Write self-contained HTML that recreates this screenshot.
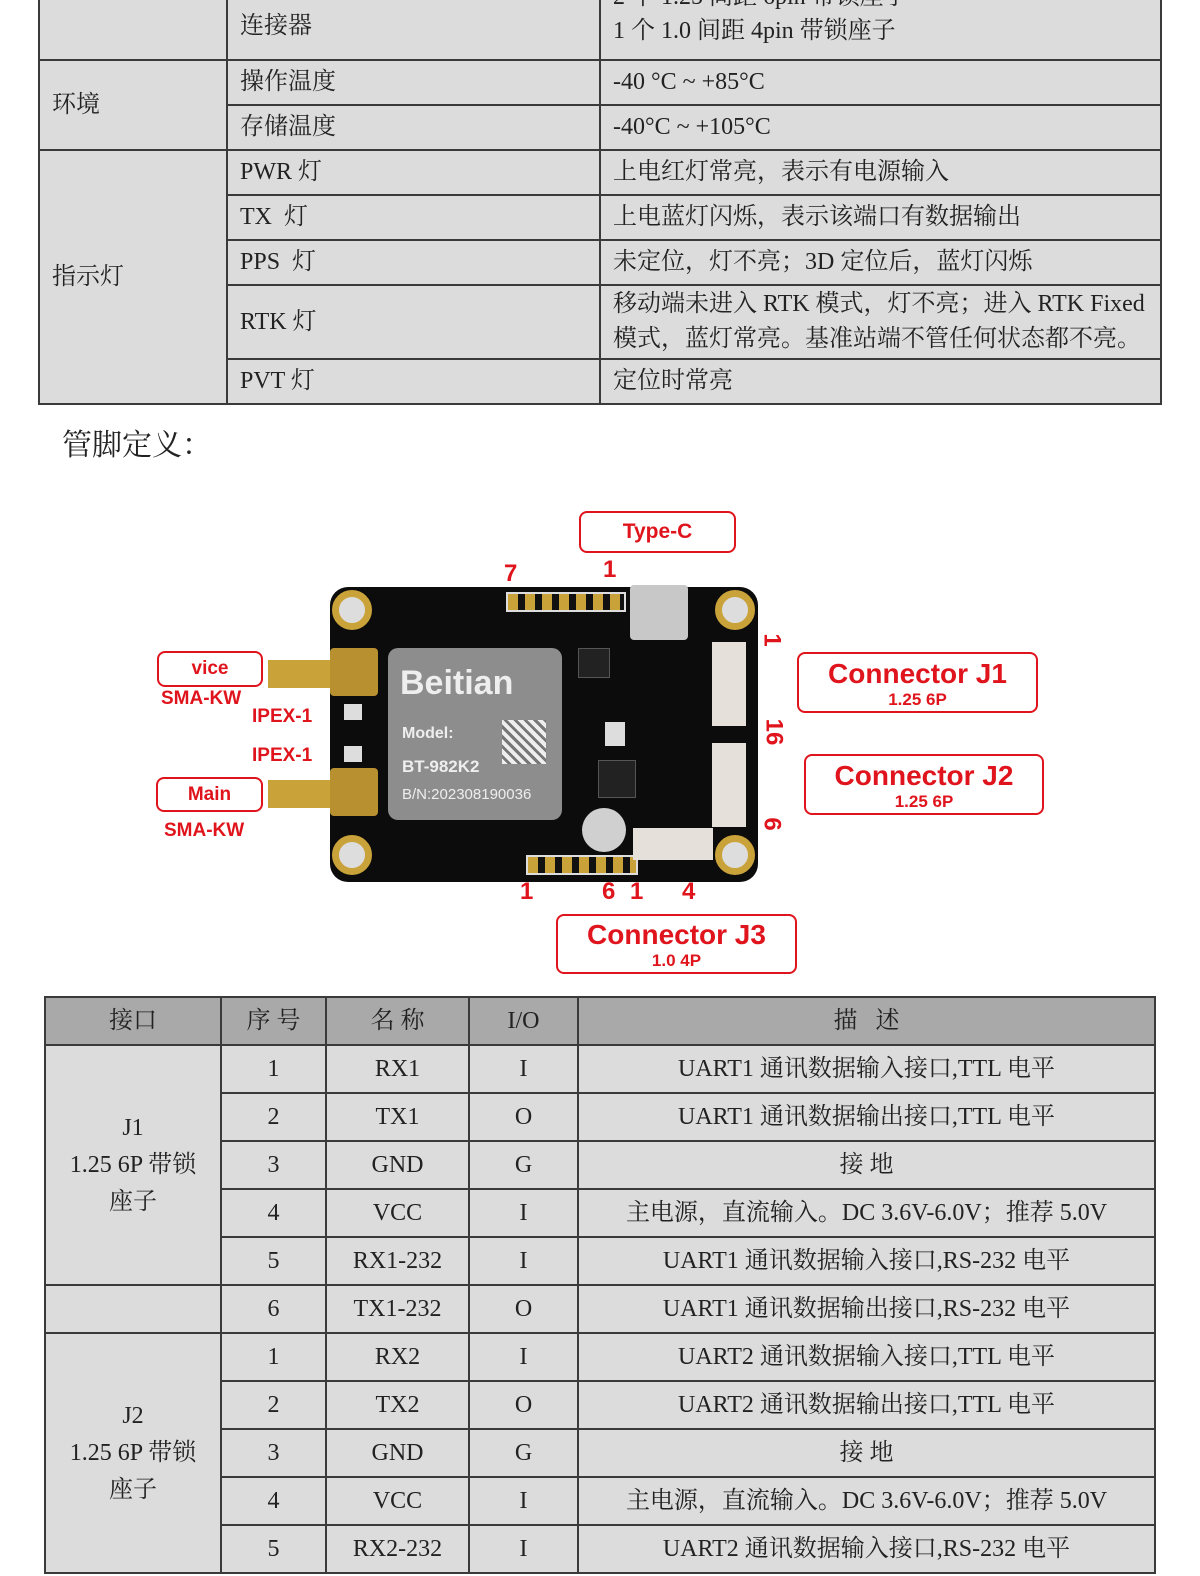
<!DOCTYPE html>
<html><head><meta charset="utf-8"><style>
body{margin:0;width:1200px;height:1576px;background:#fff;position:relative;overflow:hidden;font-family:"Liberation Serif","Noto Serif CJK SC",serif;}
table{border-collapse:collapse;table-layout:fixed;position:absolute;}
td{border:2px solid #3a3a3a;background:#dcdcdc;color:#222;font-size:24px;padding:0 12px;line-height:37px;}
.t2 td{text-align:center;padding:0;}
.t2 tr.h td{background:#a9a9a9;}
.a{position:absolute;}
.red{color:#e0141c;font-family:"Liberation Sans",sans-serif;font-weight:bold;}
.box{position:absolute;border:2px solid #e0141c;border-radius:8px;background:#fff;text-align:center;box-sizing:border-box;}
</style></head><body>

<table style="left:38px;top:-40px;width:1122px">
<col style="width:188px"><col style="width:373px"><col style="width:561px">
<tr style="height:99px"><td style="padding-top:30px"></td><td style="padding-top:32px">连接器</td><td style="padding-top:6px;line-height:34px">2 个 1.25 间距 6pin 带锁座子<br>1 个 1.0 间距 4pin 带锁座子</td></tr>
<tr style="height:45px"><td rowspan="2">环境</td><td>操作温度</td><td>-40 °C ~ +85°C</td></tr>
<tr style="height:45px"><td>存储温度</td><td>-40°C ~ +105°C</td></tr>
<tr style="height:45px"><td rowspan="5">指示灯</td><td>PWR 灯</td><td>上电红灯常亮，表示有电源输入</td></tr>
<tr style="height:45px"><td>TX &nbsp;灯</td><td>上电蓝灯闪烁，表示该端口有数据输出</td></tr>
<tr style="height:45px"><td>PPS &nbsp;灯</td><td>未定位，灯不亮；3D 定位后，蓝灯闪烁</td></tr>
<tr style="height:74px"><td>RTK 灯</td><td style="line-height:35px">移动端未进入 RTK 模式，灯不亮；进入 RTK Fixed 模式，蓝灯常亮。基准站端不管任何状态都不亮。</td></tr>
<tr style="height:45px"><td>PVT 灯</td><td>定位时常亮</td></tr>
</table>

<div class="a" style="left:62px;top:420px;font-size:30px;color:#222">管脚定义：</div>

<!-- PCB -->
<div class="a" style="left:330px;top:587px;width:428px;height:295px;background:#0c0c0c;border-radius:18px"></div>
<div class="a" style="left:332px;top:590px;width:40px;height:40px;border-radius:50%;background:#ddd;border:7px solid #c9a23a;box-sizing:border-box"></div>
<div class="a" style="left:715px;top:590px;width:40px;height:40px;border-radius:50%;background:#ddd;border:7px solid #c9a23a;box-sizing:border-box"></div>
<div class="a" style="left:332px;top:835px;width:40px;height:40px;border-radius:50%;background:#ddd;border:7px solid #c9a23a;box-sizing:border-box"></div>
<div class="a" style="left:715px;top:835px;width:40px;height:40px;border-radius:50%;background:#ddd;border:7px solid #c9a23a;box-sizing:border-box"></div>
<div class="a" style="left:388px;top:648px;width:174px;height:172px;background:#8d8d8d;border-radius:10px"></div>
<div class="a" style="left:400px;top:664px;font:bold 34px 'Liberation Sans',sans-serif;color:#eee">Beitian</div>
<div class="a" style="left:402px;top:725px;font:bold 16px 'Liberation Sans',sans-serif;color:#eee">Model:</div>
<div class="a" style="left:402px;top:757px;font:bold 17px 'Liberation Sans',sans-serif;color:#eee">BT-982K2</div>
<div class="a" style="left:402px;top:786px;font:15px 'Liberation Sans',sans-serif;color:#eee">B/N:202308190036</div>
<div class="a" style="left:502px;top:720px;width:44px;height:44px;background:repeating-linear-gradient(45deg,#eee 0 4px,#777 4px 7px)"></div>
<!-- SMA -->
<div class="a" style="left:268px;top:660px;width:62px;height:28px;background:#c9a23a"></div>
<div class="a" style="left:330px;top:648px;width:48px;height:48px;background:#b89030;border-radius:4px"></div>
<div class="a" style="left:268px;top:780px;width:62px;height:28px;background:#c9a23a"></div>
<div class="a" style="left:330px;top:768px;width:48px;height:48px;background:#b89030;border-radius:4px"></div>
<div class="a" style="left:344px;top:704px;width:18px;height:16px;background:#ddd"></div>
<div class="a" style="left:344px;top:746px;width:18px;height:16px;background:#ddd"></div>
<!-- Type C -->
<div class="a" style="left:630px;top:585px;width:58px;height:55px;background:#c8c8c8;border-radius:4px"></div>
<!-- pin headers -->
<div class="a" style="left:506px;top:592px;width:116px;height:16px;border:2px solid #ddd;background:repeating-linear-gradient(90deg,#c9a23a 0 10px,#111 10px 17px)"></div>
<div class="a" style="left:526px;top:855px;width:108px;height:16px;border:2px solid #ddd;background:repeating-linear-gradient(90deg,#c9a23a 0 10px,#111 10px 17px)"></div>
<!-- white connectors -->
<div class="a" style="left:712px;top:642px;width:34px;height:84px;background:#e5e0da"></div>
<div class="a" style="left:712px;top:743px;width:34px;height:84px;background:#e5e0da"></div>
<div class="a" style="left:633px;top:828px;width:80px;height:32px;background:#e5e0da"></div>
<div class="a" style="left:582px;top:808px;width:44px;height:44px;border-radius:50%;background:#d0d0d0"></div>
<div class="a" style="left:578px;top:648px;width:30px;height:28px;background:#222;border:1px solid #555"></div>
<div class="a" style="left:598px;top:760px;width:36px;height:36px;background:#222;border:1px solid #555"></div>
<div class="a" style="left:605px;top:722px;width:20px;height:24px;background:#ddd"></div>

<!-- labels -->
<div class="box" style="left:579px;top:511px;width:157px;height:42px"><span class="red" style="font-size:21px;line-height:38px">Type-C</span></div>
<div class="a red" style="left:504px;top:560px;font-size:24px">7</div>
<div class="a red" style="left:603px;top:556px;font-size:24px">1</div>
<div class="box" style="left:797px;top:652px;width:241px;height:61px"><div class="red" style="font-size:28px;line-height:34px;margin-top:3px">Connector J1</div><div class="red" style="font-size:17px;line-height:18px">1.25 6P</div></div>
<div class="box" style="left:804px;top:754px;width:240px;height:61px"><div class="red" style="font-size:28px;line-height:34px;margin-top:3px">Connector J2</div><div class="red" style="font-size:17px;line-height:18px">1.25 6P</div></div>
<div class="box" style="left:556px;top:914px;width:241px;height:60px"><div class="red" style="font-size:28px;line-height:34px;margin-top:2px">Connector J3</div><div class="red" style="font-size:17px;line-height:18px">1.0 4P</div></div>
<div class="a red" style="left:765px;top:626px;font-size:24px;transform:rotate(90deg)">1</div>
<div class="a red" style="left:760px;top:718px;font-size:24px;transform:rotate(90deg)">16</div>
<div class="a red" style="left:765px;top:810px;font-size:24px;transform:rotate(90deg)">6</div>
<div class="a red" style="left:520px;top:878px;font-size:24px">1</div>
<div class="a red" style="left:602px;top:878px;font-size:24px">6</div>
<div class="a red" style="left:630px;top:878px;font-size:24px">1</div>
<div class="a red" style="left:682px;top:878px;font-size:24px">4</div>
<div class="box" style="left:157px;top:651px;width:106px;height:36px"><span class="red" style="font-size:19px;line-height:32px">vice</span></div>
<div class="box" style="left:156px;top:777px;width:107px;height:35px"><span class="red" style="font-size:19px;line-height:31px">Main</span></div>
<div class="a red" style="left:161px;top:688px;font-size:19px">SMA-KW</div>
<div class="a red" style="left:164px;top:820px;font-size:19px">SMA-KW</div>
<div class="a red" style="left:252px;top:706px;font-size:19px">IPEX-1</div>
<div class="a red" style="left:252px;top:745px;font-size:19px">IPEX-1</div>

<table class="t2" style="left:44px;top:996px;width:1110px">
<col style="width:176px"><col style="width:105px"><col style="width:143px"><col style="width:109px"><col style="width:577px">
<tr class="h" style="height:48px"><td>接口</td><td>序 号</td><td>名 称</td><td>I/O</td><td>描 &nbsp; 述</td></tr>
<tr style="height:48px"><td rowspan="5" style="line-height:37px">J1<br>1.25 6P 带锁<br>座子</td><td>1</td><td>RX1</td><td>I</td><td>UART1 通讯数据输入接口,TTL 电平</td></tr>
<tr style="height:48px"><td>2</td><td>TX1</td><td>O</td><td>UART1 通讯数据输出接口,TTL 电平</td></tr>
<tr style="height:48px"><td>3</td><td>GND</td><td>G</td><td>接 地</td></tr>
<tr style="height:48px"><td>4</td><td>VCC</td><td>I</td><td>主电源，直流输入。DC 3.6V-6.0V；推荐 5.0V</td></tr>
<tr style="height:48px"><td>5</td><td>RX1-232</td><td>I</td><td>UART1 通讯数据输入接口,RS-232 电平</td></tr>
<tr style="height:48px"><td></td><td>6</td><td>TX1-232</td><td>O</td><td>UART1 通讯数据输出接口,RS-232 电平</td></tr>
<tr style="height:48px"><td rowspan="5" style="line-height:37px">J2<br>1.25 6P 带锁<br>座子</td><td>1</td><td>RX2</td><td>I</td><td>UART2 通讯数据输入接口,TTL 电平</td></tr>
<tr style="height:48px"><td>2</td><td>TX2</td><td>O</td><td>UART2 通讯数据输出接口,TTL 电平</td></tr>
<tr style="height:48px"><td>3</td><td>GND</td><td>G</td><td>接 地</td></tr>
<tr style="height:48px"><td>4</td><td>VCC</td><td>I</td><td>主电源，直流输入。DC 3.6V-6.0V；推荐 5.0V</td></tr>
<tr style="height:48px"><td>5</td><td>RX2-232</td><td>I</td><td>UART2 通讯数据输入接口,RS-232 电平</td></tr>
</table>
</body></html>
